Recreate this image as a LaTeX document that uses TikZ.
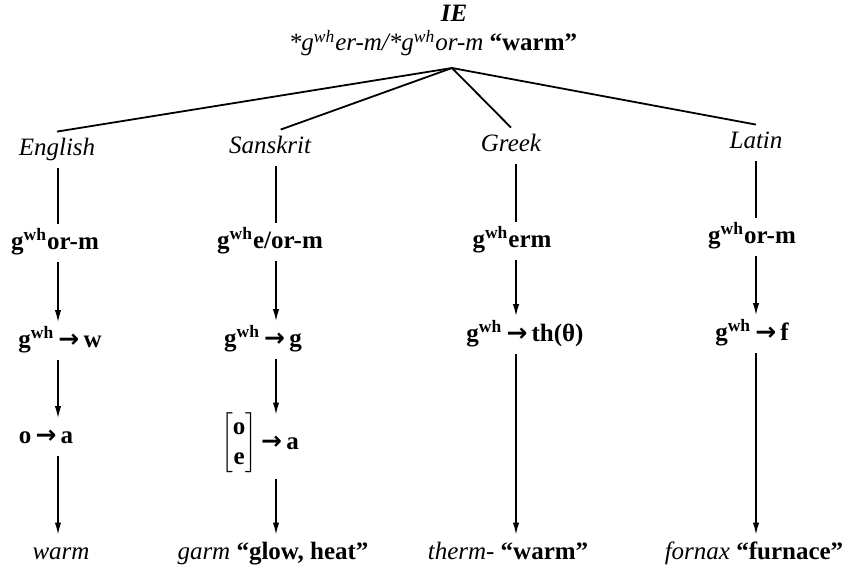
\documentclass[tikz,border=0pt]{standalone}
\usepackage{fontspec}
\setmainfont{Liberation Serif}
\newfontfamily\arrowfont{DejaVu Sans}
\usepackage{tikz}
\usetikzlibrary{arrows.meta, positioning}

\newcommand{\gwh}{g\textsuperscript{wh}}
\newcommand{\shift}{\,{\arrowfont\bfseries →}\,}

\begin{document}
\begin{tikzpicture}[
        x=0.5pt, y=-0.5pt,
        lang/.style={
            font=\fontsize{12.5}{15}\selectfont\itshape,
            text height=9pt, text depth=3pt,
            inner sep=3pt
        },
        form/.style={
            font=\fontsize{12.5}{15}\selectfont\bfseries,
            text height=9.5pt, text depth=3pt,
            inner sep=3pt
        },
        word/.style={
            font=\fontsize{12.5}{15}\selectfont,
            text height=9pt, text depth=3pt,
            inner sep=3pt
        },
        branch/.style={
            draw=black,
            line width=0.9pt
        },
        link/.style={
            -{Latex[length=6pt,width=3.2pt]},
            draw=black,
            line width=0.7pt
        }
    ]
        \useasboundingbox (0,0) rectangle (849,566);

        \node (ie) [lang, font=\fontsize{12.5}{15}\selectfont\bfseries\itshape] at (454,16) {IE};
        \node (root) [lang] at (433,45) {*\gwh er-m/*\gwh or-m \textbf{\upshape``warm''}};
        \coordinate (apex) at (452,68);

        \coordinate (ecol) at (58,0);
        \coordinate (scol) at (276,0);
        \coordinate (gcol) at (516,0);
        \coordinate (lcol) at (756,0);

        \node (eng) [lang] at (57,150) {English};
        \node (eor) [form] at (55,243) {\gwh or-m};
        \node (ew) [form] at (60,341) {\gwh\shift w};
        \node (eoa) [form] at (46,437) {o\shift a};
        \node (ewarm) [word] at (61,553) {\textit{warm}};

        \node (skt) [lang] at (270,148) {Sanskrit};
        \node (sor) [form] at (270,242) {\gwh e/or-m};
        \node (sg) [form] at (263,340) {\gwh\shift g};
        \node (soa) [form, text height=14pt, text depth=12pt] at (260,447) {$\left[\begin{tabular}{@{}c@{}}\bfseries o\\ \bfseries e\end{tabular}\right]$\shift a};
        \node (sgarm) [word] at (273,553) {\textit{garm} \textbf{``glow, heat''}};

        \node (gk) [lang] at (511,146) {Greek};
        \node (germ) [form] at (512,241) {\gwh erm};
        \node (gth) [form] at (525,335) {\gwh\shift th(θ)};
        \node (gtherm) [word] at (508,553) {\textit{therm-} \textbf{``warm''}};

        \node (lat) [lang] at (756,143) {Latin};
        \node (lor) [form] at (752,237) {\gwh or-m};
        \node (lf) [form] at (752,334) {\gwh\shift f};
        \node (lforn) [word] at (754,553) {\textit{fornax} \textbf{``furnace''}};

        \draw [branch] (apex) -- (eng.north);
        \draw [branch] (apex) -- (skt.60);
        \draw [branch] (apex) -- (gk.north);
        \draw [branch] (apex) -- (lat.north);

        \draw [branch] (ecol |- eng.south) -- (ecol |- eor.north);
        \draw [link] (ecol |- eor.south) -- (ecol |- ew.north);
        \draw [link] (ecol |- ew.south) -- (ecol |- eoa.north);
        \draw [link] (ecol |- eoa.south) -- (ecol |- ewarm.north);

        \draw [branch] (scol |- skt.south) -- (scol |- sor.north);
        \draw [link] (scol |- sor.south) -- (scol |- sg.north);
        \draw [link] (scol |- sg.south) -- (scol |- soa.north);
        \draw [link] (scol |- soa.south) -- (scol |- sgarm.north);

        \draw [branch] (gcol |- gk.south) -- (gcol |- germ.north);
        \draw [link] (gcol |- germ.south) -- (gcol |- gth.north);
        \draw [link] (gcol |- gth.south) -- (gcol |- gtherm.north);

        \draw [branch] (lcol |- lat.south) -- (lcol |- lor.north);
        \draw [link] (lcol |- lor.south) -- (lcol |- lf.north);
        \draw [link] (lcol |- lf.south) -- (lcol |- lforn.north);
    \end{tikzpicture}
\end{document}
